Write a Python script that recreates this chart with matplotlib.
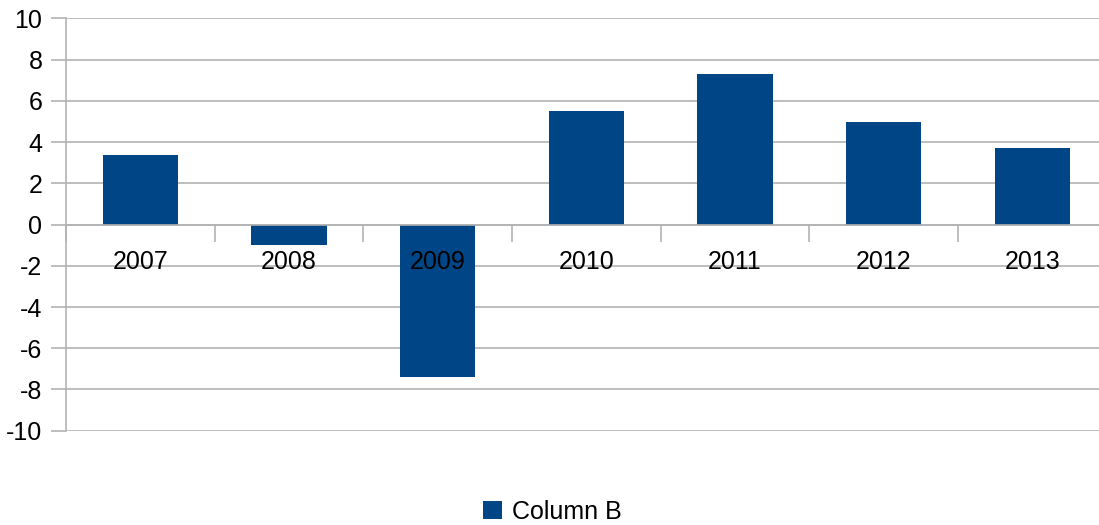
import numpy as np
import matplotlib.pyplot as plt
from matplotlib.patches import Patch

plt.rcParams['font.family'] = ['Liberation Sans', 'DejaVu Sans']
plt.rcParams['axes.unicode_minus'] = False

years = ['2007', '2008', '2009', '2010', '2011', '2012', '2013']
column_b = [3.40, -1.0, -7.41, 5.49, 7.33, 5.0, 3.74]

bar_color = '#004586'
grid_color = '#b3b3b3'

fig = plt.figure(figsize=(10.99, 5.25), dpi=100)
W, H = 1099, 525
left, right, top, bottom = 66, 1106.7, 18.5, 430.7
ax = fig.add_axes([left / W, 1 - bottom / H, (right - left) / W, (bottom - top) / H])

x = np.arange(len(years))
ax.bar(x, column_b, width=0.505, color=bar_color, zorder=3)

ax.set_xlim(-0.5, len(years) - 0.5)
ax.set_ylim(-10, 10)
ax.set_yticks(np.arange(-10, 11, 2))
ax.yaxis.grid(True, color=grid_color, lw=1.2)
ax.yaxis.set_zorder(1)
ax.tick_params(axis='y', length=11, width=1.2, color=grid_color,
               labelsize=18, pad=6)

# category axis sits on the zero line, labels drawn over the bars
ax.spines['bottom'].set_position(('data', 0))
ax.spines['bottom'].set_color(grid_color)
ax.spines['bottom'].set_linewidth(1.2)
ax.spines['bottom'].set_zorder(4)
ax.xaxis.set_zorder(5)
ax.set_xticks(x)
ax.set_xticklabels(years)
ax.set_xticks(np.arange(len(years) + 1) - 0.5, minor=True)
ax.tick_params(axis='x', which='major', length=0, labelsize=18, pad=18)
ax.tick_params(axis='x', which='minor', length=12, width=1.2, color=grid_color)

for side in ['top', 'right']:
    ax.spines[side].set_visible(False)
ax.spines['left'].set_color(grid_color)
ax.spines['left'].set_linewidth(1.2)

handle = Patch(facecolor=bar_color, label='Column B')
fig.legend(handles=[handle], loc='center', bbox_to_anchor=(552 / W, 1 - 512 / H),
           frameon=False, fontsize=18, handlelength=0.75, handleheight=0.75,
           handletextpad=0.4)

fig.savefig('out.png', dpi=100)
